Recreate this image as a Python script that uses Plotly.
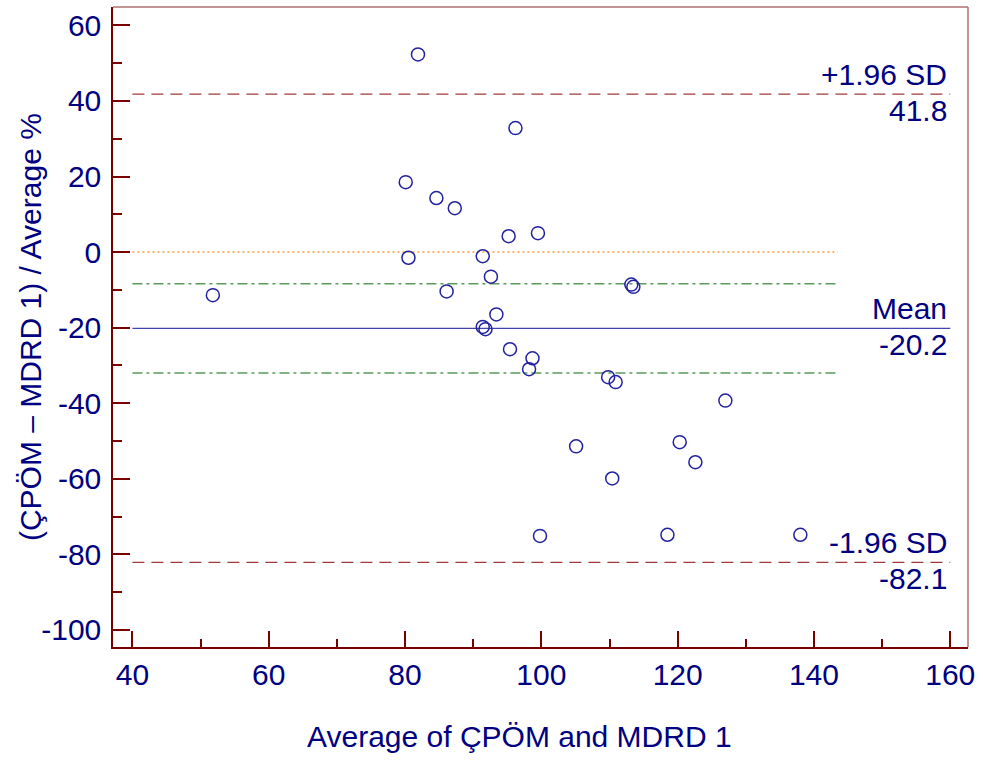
import plotly.graph_objects as go

# Data
x_avg = [51.8, 81.9, 96.2, 80.1, 84.6, 87.3, 95.2, 99.5, 80.5, 91.4, 92.6, 86.1,
         113.2, 113.5, 93.4, 91.4, 91.8, 95.4, 98.7, 98.2, 109.8, 110.9, 127.0,
         105.1, 120.3, 122.6, 110.4, 99.8, 118.5, 138.0]
y_diff = [-11.4, 52.3, 32.8, 18.5, 14.3, 11.6, 4.2, 5.0, -1.5, -1.1, -6.5, -10.4,
          -8.6, -9.2, -16.5, -19.8, -20.4, -25.7, -28.1, -31.0, -33.1, -34.4, -39.3,
          -51.4, -50.3, -55.6, -59.9, -75.1, -74.8, -74.8]

mean_diff = -20.2
upper_loa = 41.8
lower_loa = -82.1
ci_upper = -8.4
ci_lower = -32.0

x_line = [40, 160]
x_short = [40, 143.5]

x_ticks = [40, 60, 80, 100, 120, 140, 160]
y_ticks = [60, 40, 20, 0, -20, -40, -60, -80, -100]

x_title = "Average of ÇPÖM and MDRD 1"
y_title = "(ÇPÖM – MDRD 1) / Average %"

NAVY = "#000080"
AXRED = "#7a0000"
FONT = "Liberation Sans, Arial, sans-serif"
FS = 30

fig = go.Figure()

# reference lines
fig.add_trace(go.Scatter(x=x_short, y=[0, 0], mode="lines",
                         line=dict(color="#ff9a3c", width=1.5, dash="2px,3px"),
                         hoverinfo="skip", showlegend=False))
for v in (ci_upper, ci_lower):
    fig.add_trace(go.Scatter(x=x_short, y=[v, v], mode="lines",
                             line=dict(color="#5a9a5a", width=1.5, dash="10px,4px,3px,4px"),
                             hoverinfo="skip", showlegend=False))
fig.add_trace(go.Scatter(x=x_line, y=[mean_diff, mean_diff], mode="lines",
                         line=dict(color="#4444b0", width=1.3),
                         hoverinfo="skip", showlegend=False))
for v in (upper_loa, lower_loa):
    fig.add_trace(go.Scatter(x=x_line, y=[v, v], mode="lines",
                             line=dict(color="#a03a3a", width=1.3, dash="12px,7px"),
                             hoverinfo="skip", showlegend=False))

# points
fig.add_trace(go.Scatter(x=x_avg, y=y_diff, mode="markers",
                         marker=dict(symbol="circle-open", size=13,
                                     color="#2222a0", line=dict(width=1.5, color="#2222a0")),
                         showlegend=False))

# labels
labels = [("+1.96 SD", upper_loa, "bottom"), (f"{upper_loa:.1f}", upper_loa, "top"),
          ("Mean", mean_diff, "bottom"), (f"{mean_diff:.1f}", mean_diff, "top"),
          ("-1.96 SD", lower_loa, "bottom"), (f"{lower_loa:.1f}", lower_loa, "top")]
for txt, yv, anc in labels:
    fig.add_annotation(x=160, y=yv, xref="x", yref="y", text=txt, showarrow=False,
                       xanchor="right", yanchor=anc, xshift=-1,
                       yshift=(1 if anc == "bottom" else 2),
                       font=dict(family=FONT, size=FS, color=NAVY))

# axis titles
fig.add_annotation(x=0.4749, y=-0.14, xref="paper", yref="paper", xanchor="center",
                   yanchor="middle", text=x_title, showarrow=False,
                   font=dict(family=FONT, size=FS, color=NAVY))
fig.add_annotation(x=-0.097, y=0.5, xref="paper", yref="paper", xanchor="center",
                   yanchor="middle", text=y_title, textangle=-90, showarrow=False,
                   font=dict(family=FONT, size=FS, color=NAVY))

fig.update_layout(
    width=983, height=760,
    margin=dict(l=113, r=15, t=7, b=113),
    paper_bgcolor="white", plot_bgcolor="white",
    font=dict(family=FONT, size=FS, color=NAVY),
)

fig.update_xaxes(range=[37.15, 162.6], tickvals=x_ticks, ticktext=[str(t) for t in x_ticks],
                 ticks="inside", ticklen=16, tickwidth=1.5, tickcolor=AXRED,
                 minor=dict(dtick=10, tick0=0, ticks="inside", ticklen=8, tickwidth=1.5, tickcolor=AXRED),
                 showline=True, linecolor=AXRED, linewidth=1.5, showgrid=False, zeroline=False,
                 tickfont=dict(family=FONT, size=FS, color=NAVY), ticklabelstandoff=0)
fig.update_yaxes(range=[-104.5, 64.85], tickvals=y_ticks, ticktext=[str(t) for t in y_ticks],
                 ticks="inside", ticklen=17, tickwidth=1.5, tickcolor=AXRED,
                 minor=dict(dtick=10, tick0=0, ticks="inside", ticklen=9, tickwidth=1.5, tickcolor=AXRED),
                 showline=True, linecolor=AXRED, linewidth=1.5, showgrid=False, zeroline=False,
                 tickfont=dict(family=FONT, size=FS, color=NAVY), ticklabelstandoff=4)

# top and right frame lines (lighter)
fig.add_shape(type="line", xref="paper", yref="paper", x0=0, x1=1, y0=1, y1=1,
              line=dict(color="#b07070", width=1.5))
fig.add_shape(type="line", xref="paper", yref="paper", x0=1, x1=1, y0=0, y1=1,
              line=dict(color="#b07070", width=1.5))

fig.write_html("out.html")
